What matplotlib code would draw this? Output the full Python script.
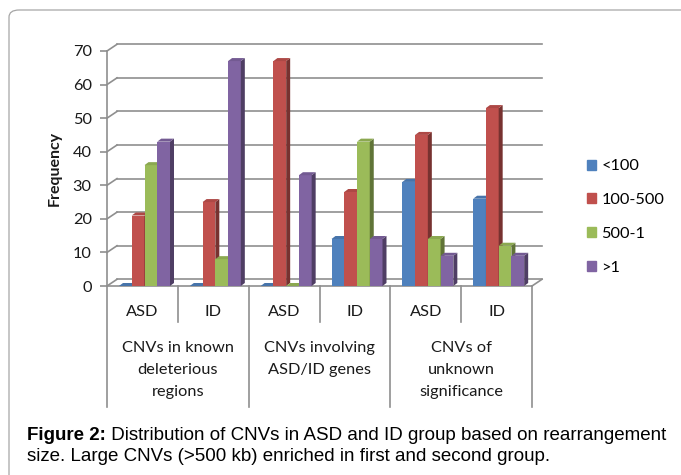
import matplotlib
matplotlib.use('agg')
import matplotlib.pyplot as plt
from matplotlib.patches import Polygon, Rectangle, FancyBboxPatch
import matplotlib.colors as mcolors
import numpy as np

# chart data
groups = ['CNVs in known\ndeleterious\nregions', 'CNVs involving\nASD/ID genes', 'CNVs of\nunknown\nsignificance']
subgroups = ['ASD', 'ID', 'ASD', 'ID', 'ASD', 'ID']
size_labels = ['<100', '100-500', '500-1', '>1']
lt100 = [0, 0, 0, 14, 31, 26]
s100_500 = [21, 25, 67, 28, 45, 53]
s500_1 = [36, 8, 0, 43, 14, 12]
gt1 = [43, 67, 33, 14, 9, 9]
series = [lt100, s100_500, s500_1, gt1]
colors = ['#4F81BD', '#C0504D', '#9BBB59', '#8064A2']

font = 'Lato'
grid_col = '#8f8f8f'

fig = plt.figure(figsize=(6.81, 4.75), dpi=100)

# outer frame (rounded, runs off the right and bottom edges)
frame = FancyBboxPatch((9 / 681, -20 / 475), 720 / 681, (475 - 10 + 20) / 475,
                       boxstyle='round,pad=0,rounding_size=0.015',
                       transform=fig.transFigure, fill=False,
                       edgecolor='#a6a6a6', linewidth=0.9)
fig.add_artist(frame)

ax = fig.add_axes([107 / 681, (475 - 286) / 475, (532 - 107) / 681, (286 - 51) / 475])
ax.set_xlim(0, 6)
ax.set_ylim(0, 70)

px_x = 6 / (532 - 107)      # data units per pixel, x
px_y = 70 / (286 - 51)      # data units per pixel, y
wall_dx, wall_dy = 10 * px_x, 6.7 * px_y
bar_dx, bar_dy = 4 * px_x, 3 * px_y

# back wall, left wall and floor
for v in range(0, 71, 10):
    ax.plot([wall_dx, 6 + wall_dx], [v + wall_dy, v + wall_dy], color=grid_col,
            lw=1.2, clip_on=False, zorder=1)
    ax.plot([0, wall_dx], [v, v + wall_dy], color=grid_col, lw=1.2,
            clip_on=False, zorder=1)
ax.plot([6, 6 + wall_dx], [0, wall_dy], color=grid_col, lw=1.2, clip_on=False, zorder=1)
ax.plot([0, 6], [0, 0], color=grid_col, lw=1.2, clip_on=False, zorder=1)

# 3d-looking columns
width = 12.75 * px_x
start = 12 * px_x
x = np.arange(len(subgroups))
for s, vals in enumerate(series):
    base = mcolors.to_rgb(colors[s])
    side = tuple(c * 0.62 for c in base)
    top = tuple(min(1, c * 0.9) for c in base)
    bars = ax.bar(x + start + s * width, vals, width, align='edge', color=colors[s],
                  linewidth=0, label=size_labels[s])
    for c, rect in enumerate(bars):
        z = 3 + (c * 4 + s) * 0.01
        rect.set_zorder(z)
        x0 = rect.get_x()
        x1 = x0 + rect.get_width()
        h = rect.get_height()
        ax.add_patch(Polygon([(x1, 0), (x1 + bar_dx, bar_dy), (x1 + bar_dx, h + bar_dy), (x1, h)],
                             closed=True, facecolor=side, edgecolor='none', zorder=z + 0.001))
        ax.add_patch(Polygon([(x0, h), (x0 + bar_dx, h + bar_dy), (x1 + bar_dx, h + bar_dy), (x1, h)],
                             closed=True, facecolor=top, edgecolor='none', zorder=z + 0.002))

# axes styling
for name in ['top', 'right', 'bottom']:
    ax.spines[name].set_visible(False)
ax.spines['left'].set_color(grid_col)
ax.spines['left'].set_linewidth(1.2)
ax.set_yticks(range(0, 71, 10))
ax.set_xticks([])
ax.tick_params(axis='y', length=5, width=1.2, color=grid_col, pad=6,
               labelsize=11.8, labelcolor='#1a1a1a')
for lab in ax.get_yticklabels():
    lab.set_fontfamily(font)
ax.set_ylabel('Frequency', fontfamily=font, fontsize=11.5, fontweight='bold',
              labelpad=8, color='#1a1a1a')
ax.patch.set_alpha(0)

# category axis with two levels
inner_bottom = -(322 - 286) * px_y
outer_bottom = -(407 - 286) * px_y
for i in range(7):
    yb = outer_bottom if i % 2 == 0 else inner_bottom
    ax.plot([i, i], [0, yb], color=grid_col, lw=1.2, clip_on=False, zorder=1)
for i, lab in enumerate(subgroups):
    ax.text(i + 0.5, -(312 - 286) * px_y, lab, ha='center', va='center',
            fontfamily=font, fontsize=11.8, color='#1a1a1a', clip_on=False)
for g, lab in enumerate(groups):
    ax.text(2 * g + 1, -(341 - 286) * px_y, lab, ha='center', va='top',
            fontfamily=font, fontsize=11.8, color='#1a1a1a', linespacing=1.72,
            clip_on=False)

# legend
handles = [Rectangle((0, 0), 1, 1, color=c) for c in colors]
fig.legend(handles, size_labels, loc='center left', bbox_to_anchor=(580 / 681, 1 - 217 / 475),
           frameon=False, prop={'family': font, 'size': 11.8}, handlelength=0.55,
           handleheight=0.55, handletextpad=0.35, labelspacing=1.2, borderaxespad=0)

# caption
cap_font = 'Liberation Sans'
cap_size = 13.5
t1 = fig.text(27 / 681, 1 - 440 / 475, 'Figure 2:', fontfamily=cap_font, fontsize=cap_size,
              fontweight='bold', va='baseline')
fig.text(27 / 681, 1 - 461 / 475, 'size. Large CNVs (>500 kb) enriched in first and second group.',
         fontfamily=cap_font, fontsize=cap_size, va='baseline')
ax.annotate(' Distribution of CNVs in ASD and ID group based on rearrangement',
            xy=(1, 0), xycoords=t1, xytext=(0, 0), textcoords='offset points',
            fontfamily=cap_font, fontsize=cap_size, va='bottom', ha='left',
            annotation_clip=False)

fig.savefig('out.png', dpi=100)
